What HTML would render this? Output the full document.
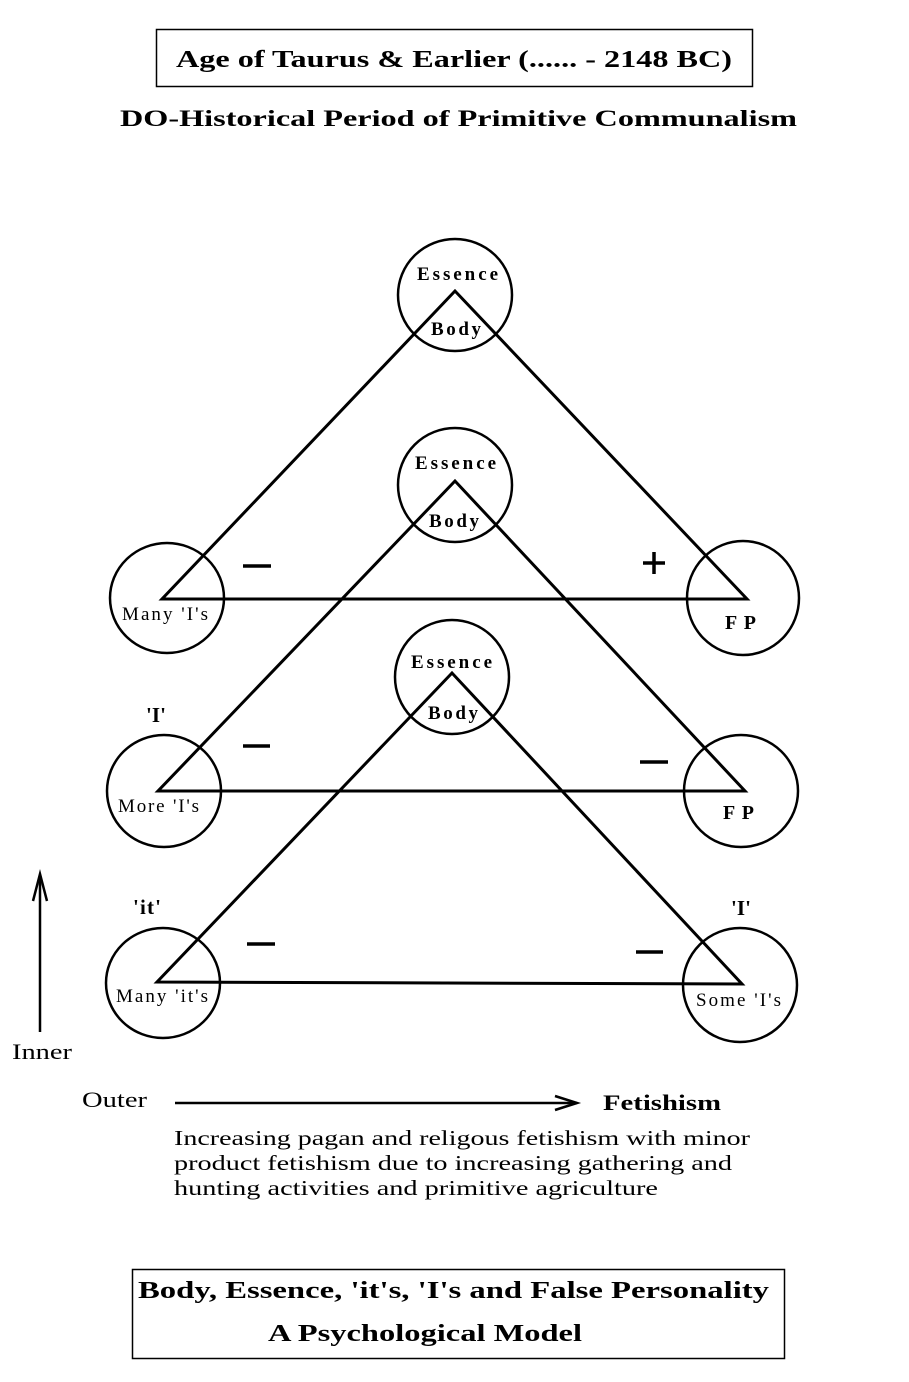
<!DOCTYPE html>
<html><head><meta charset="utf-8"><style>
html,body{margin:0;padding:0;background:#fff;}
svg{display:block;}
text{font-family:"Liberation Serif",serif;fill:#000;}
.b{font-weight:bold;}
</style></head><body>
<svg width="909" height="1382" viewBox="0 0 909 1382" xmlns="http://www.w3.org/2000/svg">
<rect x="156.5" y="29.5" width="596" height="57" fill="none" stroke="#000" stroke-width="1.5"/>
<text x="176" y="67" class="b" font-size="24" textLength="556" lengthAdjust="spacingAndGlyphs">Age of Taurus &amp; Earlier (...... - 2148 BC)</text>
<text x="120" y="126" class="b" font-size="23" textLength="677" lengthAdjust="spacingAndGlyphs">DO-Historical Period of Primitive Communalism</text>

<g fill="none" stroke="#000" stroke-width="3">
<polygon points="455,291 162,599 747,599"/>
<polygon points="455,481 158,791 745,791"/>
<polygon points="452,673 157,982 742,984"/>
</g>
<g fill="none" stroke="#000" stroke-width="2.5">
<ellipse cx="455" cy="295" rx="57" ry="56"/>
<ellipse cx="167" cy="598" rx="57" ry="55"/>
<ellipse cx="743" cy="598" rx="56" ry="57"/>
<ellipse cx="455" cy="485" rx="57" ry="57"/>
<ellipse cx="164" cy="791" rx="57" ry="56"/>
<ellipse cx="741" cy="791" rx="57" ry="56"/>
<ellipse cx="452" cy="677" rx="57" ry="57"/>
<ellipse cx="163" cy="983" rx="57" ry="55"/>
<ellipse cx="740" cy="985" rx="57" ry="57"/>
</g>
<g stroke="#000" stroke-width="3.5">
<line x1="243" y1="566" x2="271" y2="566"/>
<line x1="643" y1="563" x2="665" y2="563"/><line x1="654" y1="552" x2="654" y2="574"/>
<line x1="243" y1="746" x2="270" y2="746"/>
<line x1="640" y1="762" x2="668" y2="762"/>
<line x1="247" y1="944" x2="275" y2="944"/>
<line x1="636" y1="952" x2="663" y2="952"/>
</g>
<g class="b" font-size="19" lengthAdjust="spacingAndGlyphs">
<text x="417" y="280" textLength="81">Essence</text><text x="431" y="335" textLength="50">Body</text>
<text x="415" y="469" textLength="81">Essence</text><text x="429" y="527" textLength="50">Body</text>
<text x="411" y="668" textLength="81">Essence</text><text x="428" y="719" textLength="50">Body</text>
<text x="725" y="629" font-size="20" textLength="31">FP</text>
<text x="723" y="819" font-size="20" textLength="31">FP</text>
<text x="146" y="722" font-size="21" textLength="20">'I'</text>
<text x="133" y="914" font-size="21" textLength="28">'it'</text>
<text x="731" y="915" font-size="21" textLength="20">'I'</text>
</g>
<g font-size="19" lengthAdjust="spacingAndGlyphs">
<text x="122" y="620" textLength="86">Many 'I's</text>
<text x="118" y="812" textLength="81">More 'I's</text>
<text x="116" y="1002" textLength="92">Many 'it's</text>
<text x="696" y="1006" textLength="85">Some 'I's</text>
</g>
<g stroke="#000" stroke-width="2.5" fill="none">
<line x1="40" y1="1032" x2="40" y2="875"/>
<polyline points="33,901 40,874 47,901"/>
<line x1="175" y1="1103" x2="577" y2="1103"/>
<polyline points="555,1096 577,1103 555,1110"/>
</g>
<text x="12" y="1059" font-size="22" textLength="60" lengthAdjust="spacingAndGlyphs">Inner</text>
<text x="82" y="1107" font-size="22" textLength="65" lengthAdjust="spacingAndGlyphs">Outer</text>
<text x="603" y="1110" class="b" font-size="22" textLength="118" lengthAdjust="spacingAndGlyphs">Fetishism</text>
<g font-size="21">
<text x="174" y="1145" textLength="576" lengthAdjust="spacingAndGlyphs">Increasing pagan and religous fetishism with minor</text>
<text x="174" y="1170" textLength="558" lengthAdjust="spacingAndGlyphs">product fetishism due to increasing gathering and</text>
<text x="174" y="1195" textLength="484" lengthAdjust="spacingAndGlyphs">hunting activities and primitive agriculture</text>
</g>
<rect x="132.5" y="1269.5" width="652" height="89" fill="none" stroke="#000" stroke-width="1.5"/>
<text x="138" y="1298" class="b" font-size="24" textLength="631" lengthAdjust="spacingAndGlyphs">Body, Essence, 'it's, 'I's and False Personality</text>
<text x="268" y="1341" class="b" font-size="24" textLength="314" lengthAdjust="spacingAndGlyphs">A Psychological Model</text>
</svg>
</body></html>
